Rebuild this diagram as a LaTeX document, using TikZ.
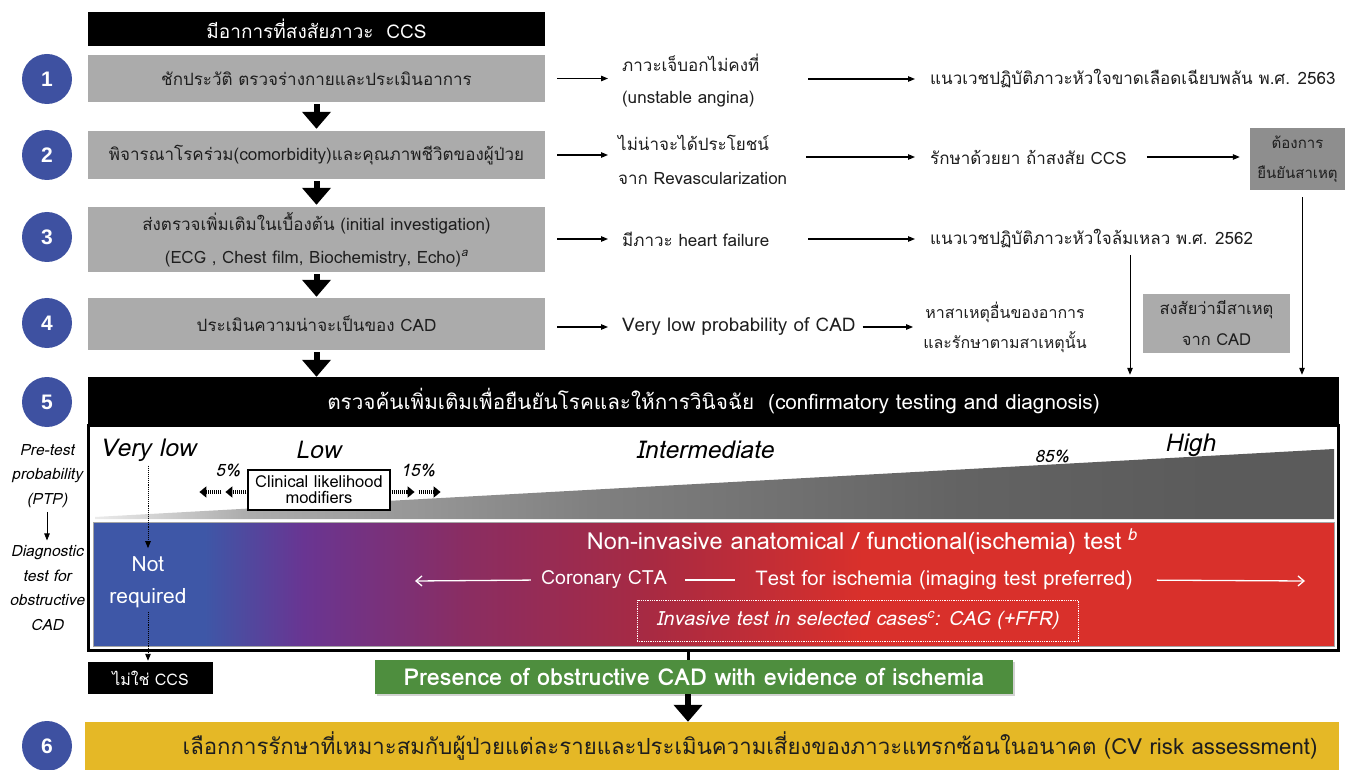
\documentclass[tikz,border=0pt]{standalone}
\usepackage{fontspec}
\setmainfont[Script=Thai]{Loma}
\newfontfamily\numfont{Liberation Sans}
\usetikzlibrary{arrows.meta,calc,shadows}
\definecolor{numblue}{HTML}{3E51A1}
\definecolor{boxgray}{HTML}{ABABAB}
\definecolor{darkgray2}{HTML}{8E8E8E}
\definecolor{txt}{HTML}{1E1E1E}
\definecolor{cB}{HTML}{3E57A7}
\definecolor{cP}{HTML}{693592}
\definecolor{cM}{HTML}{8A2D62}
\definecolor{cR1}{HTML}{A82A42}
\definecolor{cR}{HTML}{D9302B}
\definecolor{gw}{HTML}{EBEBEB}
\definecolor{g1}{HTML}{ADADAD}
\definecolor{g2}{HTML}{808080}
\definecolor{g3}{HTML}{636363}
\definecolor{g4}{HTML}{5B5B5B}
\definecolor{grn}{HTML}{4E8E3E}
\definecolor{yel}{HTML}{E5B826}
\pgfdeclarehorizontalshading{barshade}{100bp}{color(0bp)=(cB); color(25bp)=(cB); color(29.5bp)=(cB); color(33.5bp)=(cP); color(40bp)=(cM); color(47.5bp)=(cR1); color(56bp)=(cR); color(100bp)=(cR)}
\pgfdeclarehorizontalshading{wedgeshade}{100bp}{color(0bp)=(gw); color(25bp)=(gw); color(31bp)=(g1); color(45bp)=(g2); color(60bp)=(g3); color(70bp)=(g4); color(100bp)=(g4)}
\begin{document}
\begin{tikzpicture}[x=1pt,y=-1pt,
  num/.style={circle, fill=numblue, minimum size=50pt, inner sep=0pt, text=white, font=\numfont\bfseries\fontsize{21pt}{21pt}\selectfont},
  graybox/.style={fill=boxgray, minimum width=457pt, inner sep=0pt, text=txt, align=center, font=\fontsize{17pt}{33pt}\selectfont},
  blackbar/.style={fill=black, inner sep=0pt, text=white, font=\fontsize{19pt}{19pt}\selectfont},
  rtxt/.style={inner sep=0pt, text=txt, align=left, font=\fontsize{17pt}{32pt}\selectfont},
  arr/.style={-{Triangle[length=7pt,width=5.5pt]}, line width=1.1pt},
  blk/.style={line width=6pt, -{Triangle[length=17pt,width=28pt]}},
  wtxt/.style={text=white, inner sep=0pt},
  wedgelbl/.style={inner sep=0pt, font=\itshape\fontsize{24.5pt}{24.5pt}\selectfont},
  pct/.style={inner sep=0pt, font=\itshape\fontsize{17pt}{17pt}\selectfont},
  sidelbl/.style={inner sep=0pt, align=center, font=\itshape\fontsize{15.5pt}{24.5pt}\selectfont},
  warr/.style={draw=white, line width=1.3pt, -{Straight Barb[length=6pt,width=10pt]}},
  stripe/.style={line width=4.5pt, dash pattern=on 1.2pt off 0.9pt, -{Triangle[length=7pt,width=11pt]}}
]
\useasboundingbox (0,0) rectangle (1361,770);
\fill[white] (0,0) rectangle (1361,770);

% numbered circles
\node[num] (n1) at (47,79) {1};
\node[num] (n2) at (47,155) {2};
\node[num] (n3) at (47,237) {3};
\node[num] (n4) at (47,323) {4};
\node[num] (n5) at (47,402) {5};
\node[num] (n6) at (47,746) {6};

% left column
\node[blackbar, minimum width=457pt, minimum height=34pt] (head) at (316.5,29) {มีอาการที่สงสัยภาวะ\ \ CCS};
\node[graybox, minimum height=47pt] (b1) at (316.5,78.5) {ชักประวัติ ตรวจร่างกายและประเมินอาการ};
\node[graybox, minimum height=48pt] (b2) at (316.5,155) {พิจารณาโรคร่วม(comorbidity)และคุณภาพชีวิตของผู้ป่วย};
\node[graybox, minimum height=65pt] (b3) at (316.5,239.5) {ส่งตรวจเพิ่มเติมในเบื้องต้น (initial investigation)\\(ECG , Chest film, Biochemistry, Echo)\textsuperscript{\itshape a}};
\node[graybox, minimum height=52pt] (b4) at (316.5,324) {ประเมินความน่าจะเป็นของ CAD};
\node[blackbar, minimum width=1251pt, minimum height=48pt, font=\fontsize{20.7pt}{20.7pt}\selectfont] (bar5) at (713.5,401) {ตรวจค้นเพิ่มเติมเพื่อยืนยันโรคและให้การวินิจฉัย\ \ (confirmatory testing and diagnosis)};

\draw[blk, shorten <=2pt, shorten >=2pt] (b1.south) -- (b2.north);
\draw[blk, shorten <=2pt, shorten >=2pt] (b2.south) -- (b3.north);
\draw[blk, shorten <=2pt, shorten >=1pt] (b3.south) -- (b4.north);
\draw[blk, shorten <=2pt, shorten >=0pt] (b4.south) -- (b4.south |- bar5.north);

% right column
\node[rtxt, anchor=west, text width=170pt] (r1a) at (622,81) {ภาวะเจ็บอกไม่คงที่\\(unstable angina)};
\node[rtxt, anchor=west] (r1b) at (930,79) {แนวเวชปฏิบัติภาวะหัวใจขาดเลือดเฉียบพลัน พ.ศ. 2563};
\node[rtxt, anchor=west, text width=174pt, font=\fontsize{17pt}{34pt}\selectfont] (r2a) at (618,160) {ไม่น่าจะได้ประโยชน์\\จาก Revascularization};
\node[rtxt, anchor=west] (r2b) at (930,157) {รักษาด้วยยา ถ้าสงสัย CCS};
\node[fill=darkgray2, minimum width=95pt, minimum height=62pt, inner sep=0pt, align=center, text=txt, font=\fontsize{15pt}{30pt}\selectfont] (r2c) at (1297.5,159) {ต้องการ\\ยืนยันสาเหตุ};
\node[rtxt, anchor=west, text width=170pt] (r3a) at (622,239) {มีภาวะ heart failure};
\node[rtxt, anchor=west] (r3b) at (930,239) {แนวเวชปฏิบัติภาวะหัวใจล้มเหลว พ.ศ. 2562};
\node[rtxt, anchor=west, font=\fontsize{18.8pt}{18.8pt}\selectfont] (r4a) at (622,327) {Very low probability of CAD};
\node[rtxt, align=center, font=\fontsize{16pt}{30pt}\selectfont] (r4b) at (1005,327) {หาสาเหตุอื่นของอาการ\\และรักษาตามสาเหตุนั้น};
\node[fill=boxgray, minimum width=147pt, minimum height=59pt, inner sep=0pt, align=center, text=txt, font=\fontsize{16.5pt}{31pt}\selectfont] (r4c) at (1216.5,323.5) {สงสัยว่ามีสาเหตุ\\จาก CAD};

\draw[arr, shorten <=12pt, shorten >=14pt] (b1.east) -- (b1.east -| r1a.west);
\draw[arr, shorten <=16pt, shorten >=15pt] (r1a.east |- r1b.west) -- (r1b.west);
\draw[arr, shorten <=12pt, shorten >=10pt] (b2.east) -- (b2.east -| r2a.west);
\draw[arr, shorten <=14pt, shorten >=15pt] (r2a.east |- r2b.west) -- (r2b.west);
\draw[arr, shorten <=20pt, shorten >=10pt] (r2b.east) -- (r2b.east -| r2c.west);
\draw[arr, shorten <=12pt, shorten >=14pt] (b3.east |- r3a.west) -- (r3a.west);
\draw[arr, shorten <=16pt, shorten >=15pt] (r3a.east) -- (r3b.west);
\draw[arr, shorten <=12pt, shorten >=14pt] (b4.east |- r4a.west) -- (r4a.west);
\draw[arr, shorten <=7pt, shorten >=10pt] (r4a.east) -- (r4b.west);

\coordinate (v1) at (1130,255);
\draw[arr, line width=1pt, shorten >=2pt] (v1) -- (v1 |- bar5.north);
\draw[arr, line width=1pt, shorten <=7pt, shorten >=2pt] ([xshift=4.5pt]r2c.south) -- ([xshift=4.5pt]r2c.south |- bar5.north);

% big frame
\shade[shading=wedgeshade] (95,519) -- (1334,519) -- (1334,449) -- (95,517) -- cycle;
\shade[shading=barshade, draw=gray!70, line width=0.8pt] (93,522) rectangle (1334,646);
\node[draw, line width=3pt, minimum width=1250pt, minimum height=225pt, inner sep=0pt] (frame) at (713.5,537.5) {};

\node[wedgelbl] (vlow) at (148,450) {Very low};
\node[wedgelbl] (low) at (318,450) {Low};
\node[wedgelbl] (inter) at (705,450) {Intermediate};
\node[pct] (p85) at (1052,457) {85\%};
\node[wedgelbl] (high) at (1190,445) {High};
\node[pct] (p5) at (228,471) {5\%};
\node[pct] (p15) at (418,471) {15\%};
\node[draw, line width=1.2pt, fill=white, minimum width=142pt, minimum height=40pt, inner sep=0pt, align=center, font=\fontsize{16.5pt}{16pt}\selectfont] (clm) at (319,490) {Clinical likelihood\\modifiers};
\draw[stripe] ([xshift=-1pt,yshift=-2pt]clm.west) -- ([xshift=-22pt,yshift=-2pt]clm.west);
\draw[stripe] ([xshift=-26pt,yshift=-2pt]clm.west) -- ([xshift=-48pt,yshift=-2pt]clm.west);
\draw[stripe] ([xshift=1pt,yshift=-2pt]clm.east) -- ([xshift=24pt,yshift=-2pt]clm.east);
\draw[stripe] ([xshift=28pt,yshift=-2pt]clm.east) -- ([xshift=50pt,yshift=-2pt]clm.east);

\node[sidelbl] (ptp) at (47,476) {Pre-test\\probability\\(PTP)};
\node[sidelbl] (dtest) at (47,588) {Diagnostic\\test for\\obstructive\\CAD};
\draw[arr, line width=0.8pt, shorten <=4pt, shorten >=5pt] (ptp.south) -- (dtest.north);

\node[wtxt, align=center, font=\fontsize{21pt}{32pt}\selectfont] (notreq) at (148,582) {Not\\required};
\node[fill=black, text=white, minimum width=125pt, minimum height=32pt, inner sep=0pt, font=\fontsize{16pt}{16pt}\selectfont] (notccs) at (150.5,678) {ไม่ใช่ CCS};
\draw[arr, densely dotted, line width=0.9pt, shorten <=4pt, shorten >=8pt] (vlow.south) -- (notreq.north);
\draw[arr, densely dotted, line width=0.9pt, shorten <=4pt, shorten >=1pt] (notreq.south) -- (notreq.south |- notccs.north);

\node[wtxt, font=\fontsize{23.5pt}{23.5pt}\selectfont] (nonin) at (862,542) {Non-invasive anatomical / functional(ischemia) test\textsuperscript{\itshape\ b}};
\node[wtxt, font=\fontsize{19.5pt}{19.5pt}\selectfont] (cta) at (604,580) {Coronary CTA};
\node[wtxt, font=\fontsize{20.3pt}{20.3pt}\selectfont] (tfi) at (944,580) {Test for ischemia (imaging test preferred)};
\coordinate (ctaend) at (415,581);
\coordinate (tfiend) at (1305,581);
\draw[warr, shorten <=10pt] (cta.west) -- (ctaend);
\draw[draw=white, line width=1.3pt, shorten <=18pt, shorten >=20pt] (cta.east) -- (tfi.west);
\draw[warr, shorten <=24pt] (tfi.east) -- (tfiend);
\node[draw=white, densely dotted, line width=0.8pt, minimum width=441pt, minimum height=41pt, inner sep=0pt, text=white, font=\itshape\fontsize{19.6pt}{19.6pt}\selectfont] (inv) at (857.5,620.5) {Invasive test in selected cases\textsuperscript{c}: CAG (+FFR)};

% bottom
\node[fill=grn, text=white, minimum width=638pt, minimum height=34pt, inner sep=0pt, drop shadow={opacity=0.35, shadow xshift=2pt, shadow yshift=-2pt}, font=\bfseries\fontsize{23.3pt}{23.3pt}\selectfont] (green) at (694,677) {Presence of obstructive CAD with evidence of ischemia};
\node[fill=yel, minimum width=1254pt, minimum height=48pt, inner sep=0pt] (yelbar) at (712,746) {};
\node[inner sep=0pt, text=txt, font=\fontsize{22.2pt}{22.2pt}\selectfont] (yeltxt) at (750,746) {เลือกการรักษาที่เหมาะสมกับผู้ป่วยแต่ละรายและประเมินความเสี่ยงของภาวะแทรกซ้อนในอนาคต (CV risk assessment)};
\draw[line width=3pt] ([xshift=-6pt]green.north |- frame.south) -- ([xshift=-6pt]green.north);
\draw[blk] ([xshift=-6pt]green.south) -- ([xshift=-6pt]green.south |- yelbar.north);
\end{tikzpicture}
\end{document}
